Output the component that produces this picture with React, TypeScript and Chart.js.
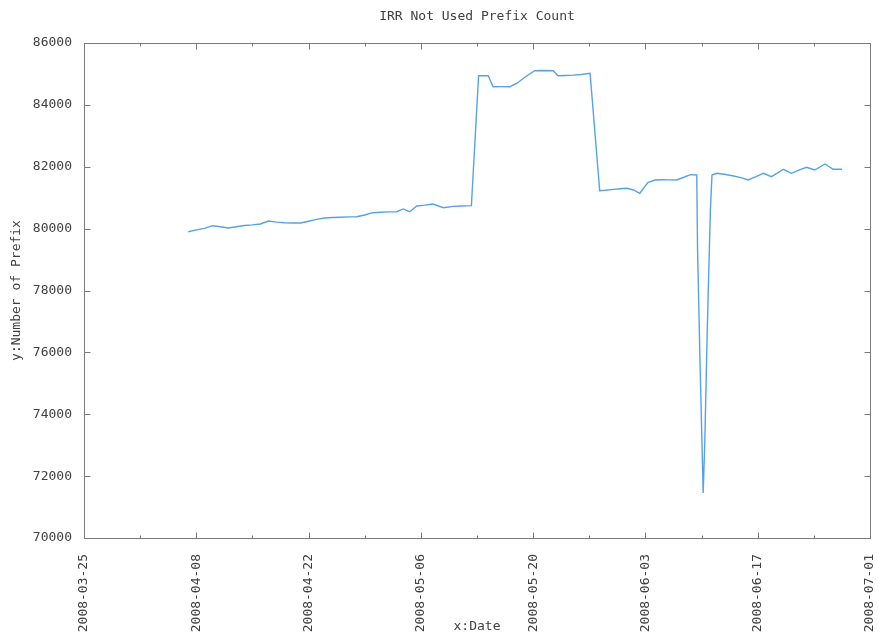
import { useEffect, useRef } from 'react';
import { Chart, registerables } from 'chart.js';

Chart.register(...registerables);

// Day offsets counted from 2008-03-25
const dayOffsets = [
  13, 14, 15, 16, 17, 18, 19, 20, 21, 22, 23, 24, 25, 26, 27, 28, 29, 30, 31, 32, 33, 34, 35, 36, 37, 38, 39,
  39.8, 40.6, 41.5, 42.5, 43.5, 44.8, 46, 47, 48.3, 49.2, 50.4, 51.0, 52, 53.1, 54, 55, 56.2, 57, 58.5, 59.1,
  60, 61, 62, 63.1, 64.3, 65, 66, 66.8, 67.7, 68.5, 69.3, 70.3, 71.2, 72, 73, 73.9, 74.8, 75.6, 76.4, 76.5,
  76.8, 77.2, 77.4, 77.7, 78.1, 78.3, 78.9, 80, 81, 82, 82.8, 83.8, 84.7, 85.7, 86.5, 87.2, 88.2, 89.2, 90.1,
  91.1, 92.4, 93.4, 94.5,
];
const prefixCounts = [
  79900, 79960, 80010, 80095, 80060, 80020, 80060, 80100, 80120, 80150, 80247, 80210, 80190, 80180, 80182,
  80240, 80300, 80344, 80360, 80370, 80380, 80386, 80440, 80515, 80530, 80540, 80547,
  80635, 80547, 80732, 80760, 80796, 80677, 80720, 80730, 80742, 84943, 84943, 84588, 84590, 84588, 84700,
  84900, 85105, 85110, 85105, 84943,
  84950, 84960, 84980, 85021, 81226, 81240, 81270, 81291, 81304, 81250, 81142, 81485, 81572, 81580, 81575,
  81572, 81660, 81744, 81734, 79310,
  75754, 71456, 73072, 76627, 80602, 81734, 81789, 81750, 81701, 81640, 81572, 81680, 81789, 81679, 81800,
  81918, 81789, 81900, 81983,
  81895, 82089, 81918, 81918,
];
const xTickLabels = [
  '2008-03-25', '2008-04-08', '2008-04-22', '2008-05-06',
  '2008-05-20', '2008-06-03', '2008-06-17', '2008-07-01',
];
const Y_MIN = 70000;
const Y_MAX = 86000;
const Y_STEP = 2000;
const X_MAX_DAYS = 98;
const X_MINOR_STEP = 7;
const X_MAJOR_STEP = 14;

const FONT = "'DejaVu Sans Mono', monospace";
const TEXT_COLOR = '#404040';
const FRAME_COLOR = '#7a7a7a';
const LINE_COLOR = '#55a3e6';

const framePlugin = {
  id: 'gnuFrame',
  afterDraw(chart: any) {
    const { ctx, chartArea: a, scales } = chart;
    const L = Math.round(a.left) + 0.5;
    const R = Math.round(a.right) + 0.5;
    const T = Math.round(a.top) + 0.5;
    const B = Math.round(a.bottom) + 0.5;
    ctx.save();
    ctx.strokeStyle = FRAME_COLOR;
    ctx.lineWidth = 1;
    ctx.strokeRect(L, T, R - L, B - T);
    ctx.beginPath();
    scales.x.ticks.forEach((t: any) => {
      const px = Math.round(scales.x.getPixelForValue(t.value)) + 0.5;
      const len = t.value % X_MAJOR_STEP === 0 ? 6 : 3;
      ctx.moveTo(px, B);
      ctx.lineTo(px, B - len);
      ctx.moveTo(px, T);
      ctx.lineTo(px, T + len);
    });
    scales.y.ticks.forEach((t: any) => {
      const py = Math.round(scales.y.getPixelForValue(t.value)) + 0.5;
      ctx.moveTo(L, py);
      ctx.lineTo(L + 6, py);
      ctx.moveTo(R, py);
      ctx.lineTo(R - 6, py);
    });
    ctx.stroke();
    ctx.restore();
  },
};

export default function App() {
  const ref = useRef<HTMLCanvasElement | null>(null);

  useEffect(() => {
    if (!ref.current) return;
    const chart = new Chart(ref.current, {
      type: 'line',
      data: {
        datasets: [
          {
            label: 'IRR Not Used Prefix Count',
            data: dayOffsets.map((d, i) => ({ x: d, y: prefixCounts[i] })),
            borderColor: LINE_COLOR,
            borderWidth: 1.4,
            pointRadius: 0,
            tension: 0,
            fill: false,
          },
        ],
      },
      options: {
        animation: false,
        responsive: false,
        events: [],
        layout: { padding: { left: 0, right: 8, top: 0, bottom: 0 } },
        plugins: {
          legend: { display: false },
          tooltip: { enabled: false },
          title: {
            display: true,
            text: 'IRR Not Used Prefix Count',
            fullSize: false,
            color: TEXT_COLOR,
            font: { family: FONT, size: 13, weight: 'normal', lineHeight: 1.2 },
            padding: { top: 9, bottom: 18.4 },
          },
        },
        scales: {
          x: {
            type: 'linear',
            min: 0,
            max: X_MAX_DAYS,
            grid: { display: false },
            border: { display: false },
            afterFit: (axis: any) => {
              axis.height = 95;
              axis.paddingLeft = 0;
              axis.paddingRight = 0;
            },
            ticks: {
              stepSize: X_MINOR_STEP,
              autoSkip: false,
              minRotation: 90,
              maxRotation: 90,
              padding: 8,
              color: TEXT_COLOR,
              font: { family: FONT, size: 13 },
              callback: (v: any) => {
                const n = Number(v);
                if (n % X_MAJOR_STEP !== 0) return '';
                return xTickLabels[n / X_MAJOR_STEP] ?? '';
              },
            },
            title: {
              display: true,
              text: 'x:Date',
              color: TEXT_COLOR,
              font: { family: FONT, size: 13, lineHeight: 1 },
              padding: { top: 0, bottom: 0 },
            },
          },
          y: {
            min: Y_MIN,
            max: Y_MAX,
            grid: { display: false, drawTicks: false },
            border: { display: false },
            afterFit: (axis: any) => {
              axis.width = 84;
            },
            ticks: {
              stepSize: Y_STEP,
              padding: 12,
              color: TEXT_COLOR,
              font: { family: FONT, size: 13 },
              callback: (v: any) => String(v),
            },
            title: {
              display: true,
              text: 'y:Number of Prefix',
              color: TEXT_COLOR,
              font: { family: FONT, size: 13, lineHeight: 1.2 },
              padding: { top: 9, bottom: 0 },
            },
          },
        },
      },
      plugins: [framePlugin],
    });
    return () => chart.destroy();
  }, []);

  return (
    <div style={{ position: 'fixed', left: 0, top: 0, width: 878, height: 633, background: '#fff' }}>
      <canvas ref={ref} width={878} height={633} style={{ display: 'block', width: 878, height: 633 }} />
    </div>
  );
}
